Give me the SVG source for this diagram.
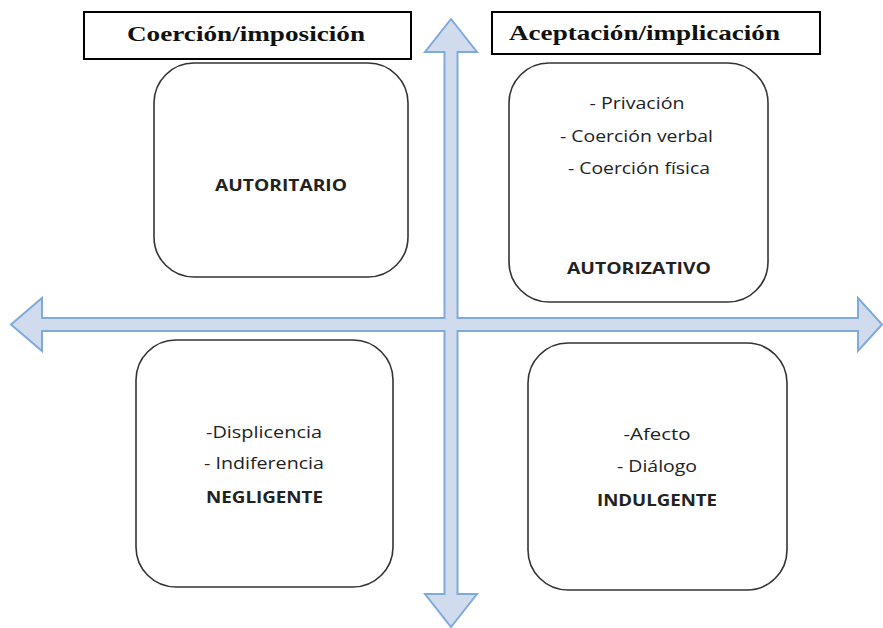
<svg xmlns="http://www.w3.org/2000/svg" width="883" height="628" viewBox="0 0 883 628">
<style>
.title{fill:#fff;stroke:#000;stroke-width:2}
.box{fill:#fff;stroke:#333;stroke-width:1.6}
.tt{font-family:"Liberation Serif",serif;font-weight:bold;font-size:21px;fill:#111;text-anchor:middle}
.t{font-family:"Open Sans","Noto Sans",sans-serif;font-size:15.5px;fill:#222;text-anchor:middle}
.b{font-family:"Open Sans","Noto Sans",sans-serif;font-size:15.5px;font-weight:bold;fill:#222;text-anchor:middle}
.arrow{fill:#d0dcee;stroke:#7eaadc;stroke-width:2;stroke-linejoin:miter}
</style>
<rect width="883" height="628" fill="#fff"/>
<g id="connectors">
<polygon class="arrow" points="451,19 477,52 457.5,52 457.5,318 858,318 858,298 882,324.5 858,351 858,331 457.5,331 457.5,594 477,594 451,627 425,594 444.5,594 444.5,331 42,331 42,351 11,324.5 42,298 42,318 444.5,318 444.5,52 425,52"/>
</g>
<g id="title-coercion">
<rect class="title" x="84" y="12" width="327" height="47"/>
<text class="tt" x="246" y="41" textLength="238" lengthAdjust="spacingAndGlyphs">Coerción/imposición</text>
</g>
<g id="title-aceptacion">
<rect class="title" x="492" y="12" width="328" height="42"/>
<text class="tt" x="644.5" y="40" textLength="271" lengthAdjust="spacingAndGlyphs">Aceptación/implicación</text>
</g>
<g id="autoritario">
<rect class="box" x="154" y="63" width="254" height="214" rx="40"/>
<text class="b" x="281" y="190.5" textLength="132" lengthAdjust="spacingAndGlyphs">AUTORITARIO</text>
</g>
<g id="autorizativo">
<rect class="box" x="509" y="63" width="259" height="239" rx="40"/>
<text class="t" x="637" y="108.5" textLength="95" lengthAdjust="spacingAndGlyphs">- Privación</text>
<text class="t" x="636.5" y="141.5" textLength="153" lengthAdjust="spacingAndGlyphs">- Coerción verbal</text>
<text class="t" x="639" y="173.5" textLength="142" lengthAdjust="spacingAndGlyphs">- Coerción física</text>
<text class="b" x="639" y="273.5" textLength="144" lengthAdjust="spacingAndGlyphs">AUTORIZATIVO</text>
</g>
<g id="negligente">
<rect class="box" x="136" y="340" width="257" height="247" rx="40"/>
<text class="t" x="264" y="437.5" textLength="116" lengthAdjust="spacingAndGlyphs">-Displicencia</text>
<text class="t" x="264" y="468.5" textLength="120" lengthAdjust="spacingAndGlyphs">- Indiferencia</text>
<text class="b" x="264.5" y="502.5" textLength="117" lengthAdjust="spacingAndGlyphs">NEGLIGENTE</text>
</g>
<g id="indulgente">
<rect class="box" x="528" y="343" width="259" height="247" rx="40"/>
<text class="t" x="657" y="439.5" textLength="67" lengthAdjust="spacingAndGlyphs">-Afecto</text>
<text class="t" x="657" y="471.5" textLength="80" lengthAdjust="spacingAndGlyphs">- Diálogo</text>
<text class="b" x="657" y="505.5" textLength="120" lengthAdjust="spacingAndGlyphs">INDULGENTE</text>
</g>
</svg>
